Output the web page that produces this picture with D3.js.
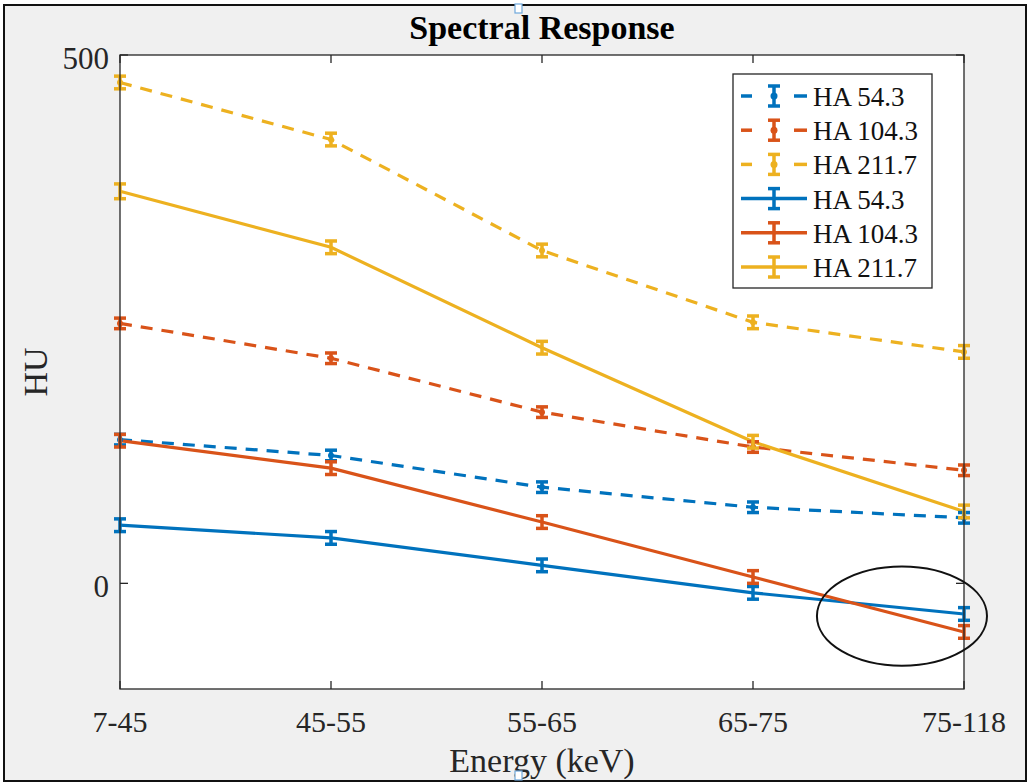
<!DOCTYPE html>
<html><head><meta charset="utf-8">
<script src="https://cdn.jsdelivr.net/npm/d3@7"></script>
<style>body{margin:0;background:#fff;} svg{display:block;}</style>
</head><body>
<svg id="c" width="1028" height="783"></svg>
<script>
const categories = ["7-45","45-55","55-65","65-75","75-118"];
const yTicks = [0, 500];
const seriesNames = ["HA 54.3","HA 104.3","HA 211.7","HA 54.3","HA 104.3","HA 211.7"];
const dashedBlue   = [136, 121, 91, 72, 62];
const dashedOrange = [246, 213, 162, 129, 107];
const dashedYellow = [474, 420, 315, 247, 219];
const solidBlue    = [55, 43, 17, -9, -29];
const solidOrange  = [135, 109, 58, 6, -46];
const solidYellow  = [371, 318, 223, 134, 68];
const errBlueD   = [5, 5, 5, 5, 5];
const errOrangeD = [5, 5, 5, 5, 5];
const errYellowD = [6, 6, 6, 6, 6];
const errBlueS   = [6, 6, 6, 6, 6];
const errOrangeS = [6, 6, 6, 6, 6];
const errYellowS = [7, 6, 6, 6, 6];
// annotation ellipse (x in category index units, y in HU)
const ellipseCenter = [3.706, -31];
const ellipseRadii = [0.403, 47];

const colors = ["#0072BD","#D95319","#EDB120"];
const series = [
  {name:seriesNames[0], vals:dashedBlue,   err:errBlueD,   color:colors[0], dashed:true},
  {name:seriesNames[1], vals:dashedOrange, err:errOrangeD, color:colors[1], dashed:true},
  {name:seriesNames[2], vals:dashedYellow, err:errYellowD, color:colors[2], dashed:true},
  {name:seriesNames[3], vals:solidBlue,    err:errBlueS,   color:colors[0], dashed:false},
  {name:seriesNames[4], vals:solidOrange,  err:errOrangeS, color:colors[1], dashed:false},
  {name:seriesNames[5], vals:solidYellow,  err:errYellowS, color:colors[2], dashed:false}
];

const svg = d3.select("#c");
const W = 1028, H = 783;
const L = 120, R = 964, T = 55, B = 689;
const font = "'Liberation Serif','Times New Roman',serif";
const axisColor = "#262626";

svg.append("rect").attr("x",0).attr("y",0).attr("width",W).attr("height",H).attr("fill","#fff");
svg.append("rect").attr("x",4).attr("y",5).attr("width",1022).attr("height",776)
  .attr("fill","#f0f0f0").attr("stroke","#111").attr("stroke-width",2);

const x = d3.scalePoint().domain(d3.range(categories.length)).range([L, R]);
const xl = d3.scaleLinear().domain([0, categories.length-1]).range([L, R]);
const y = d3.scaleLinear().domain([-100, 500]).range([B, T]);

svg.append("rect").attr("x",L).attr("y",T).attr("width",R-L).attr("height",B-T).attr("fill","#fff");

const line = d3.line().x((d,i)=>x(i)).y(d=>y(d));
const plot = svg.append("g");
series.forEach(s=>{
  plot.append("path").datum(s.vals).attr("d",line).attr("fill","none")
    .attr("stroke",s.color).attr("stroke-width",3.2)
    .attr("stroke-dasharray", s.dashed ? "12,9" : null);
});
series.forEach(s=>{
  const eg = plot.append("g").attr("stroke",s.color).attr("stroke-width",3.5).attr("fill",s.color);
  s.vals.forEach((v,i)=>{
    const cx = x(i), y1 = y(v+s.err[i]), y2 = y(v-s.err[i]);
    eg.append("line").attr("x1",cx).attr("x2",cx).attr("y1",y1).attr("y2",y2);
    eg.append("line").attr("x1",cx-6).attr("x2",cx+6).attr("y1",y1).attr("y2",y1);
    eg.append("line").attr("x1",cx-6).attr("x2",cx+6).attr("y1",y2).attr("y2",y2);
    if (s.dashed) eg.append("circle").attr("cx",cx).attr("cy",y(v)).attr("r",3).attr("stroke","none");
  });
});

// axes box
const ax = svg.append("g").attr("stroke",axisColor).attr("stroke-width",1.3).attr("fill","none");
ax.append("rect").attr("x",L).attr("y",T).attr("width",R-L).attr("height",B-T);
d3.range(categories.length).forEach(i=>{
  ax.append("line").attr("x1",x(i)).attr("x2",x(i)).attr("y1",B).attr("y2",B-8);
  ax.append("line").attr("x1",x(i)).attr("x2",x(i)).attr("y1",T).attr("y2",T+8);
});
yTicks.forEach(t=>{
  ax.append("line").attr("x1",L).attr("x2",L+8).attr("y1",y(t)).attr("y2",y(t));
  ax.append("line").attr("x1",R).attr("x2",R-8).attr("y1",y(t)).attr("y2",y(t));
});

// tick labels
const tl = svg.append("g").attr("font-family",font).attr("fill","#262626");
categories.forEach((c,i)=>{
  tl.append("text").attr("x",x(i)).attr("y",B+43).attr("text-anchor","middle").attr("font-size",30).text(c);
});
yTicks.forEach(t=>{
  tl.append("text").attr("x",L-11).attr("y",y(t)+14).attr("text-anchor","end").attr("font-size",31).text(t);
});

// labels
svg.append("text").attr("x",(L+R)/2).attr("y",772).attr("text-anchor","middle")
  .attr("font-family",font).attr("font-size",34).attr("fill","#262626").text("Energy (keV)");
svg.append("text").attr("transform",`translate(47,${(T+B)/2}) rotate(-90)`).attr("text-anchor","middle")
  .attr("font-family",font).attr("font-size",34).attr("fill","#262626").text("HU");
svg.append("text").attr("x",542).attr("y",39).attr("text-anchor","middle")
  .attr("font-family",font).attr("font-size",34).attr("font-weight","bold").attr("fill","#000").text("Spectral Response");

// legend
const lg = svg.append("g");
lg.append("rect").attr("x",733).attr("y",74).attr("width",199).attr("height",214)
  .attr("fill","#fff").attr("stroke",axisColor).attr("stroke-width",1.3);
series.forEach((s,i)=>{
  const cy = 96 + i*34.2;
  const r = lg.append("g").attr("stroke",s.color).attr("stroke-width",3.5);
  if (s.dashed) {
    r.append("line").attr("x1",741).attr("x2",752).attr("y1",cy).attr("y2",cy);
    r.append("line").attr("x1",794).attr("x2",807).attr("y1",cy).attr("y2",cy);
    r.append("circle").attr("cx",774).attr("cy",cy).attr("r",3.5).attr("fill",s.color).attr("stroke","none");
  } else {
    r.append("line").attr("x1",741).attr("x2",807).attr("y1",cy).attr("y2",cy);
  }
  r.append("line").attr("x1",774).attr("x2",774).attr("y1",cy-10).attr("y2",cy+10);
  r.append("line").attr("x1",768).attr("x2",780).attr("y1",cy-10).attr("y2",cy-10);
  r.append("line").attr("x1",768).attr("x2",780).attr("y1",cy+10).attr("y2",cy+10);
  lg.append("text").attr("x",813).attr("y",cy+10).attr("font-family",font).attr("font-size",27)
    .attr("fill","#111").text(s.name);
});

// annotation ellipse
svg.append("ellipse").attr("cx",xl(ellipseCenter[0])).attr("cy",y(ellipseCenter[1]))
  .attr("rx",xl(ellipseRadii[0])-xl(0)).attr("ry",y(0)-y(ellipseRadii[1]))
  .attr("fill","none").attr("stroke","#111").attr("stroke-width",2);

// selection handles
svg.append("rect").attr("x",515).attr("y",4).attr("width",7).attr("height",9).attr("fill","#fff").attr("stroke","#6fa8dc").attr("stroke-width",1.2);
svg.append("rect").attr("x",515).attr("y",771).attr("width",7).attr("height",9).attr("fill","#fff").attr("stroke","#6fa8dc").attr("stroke-width",1.2);
</script>
</body></html>
